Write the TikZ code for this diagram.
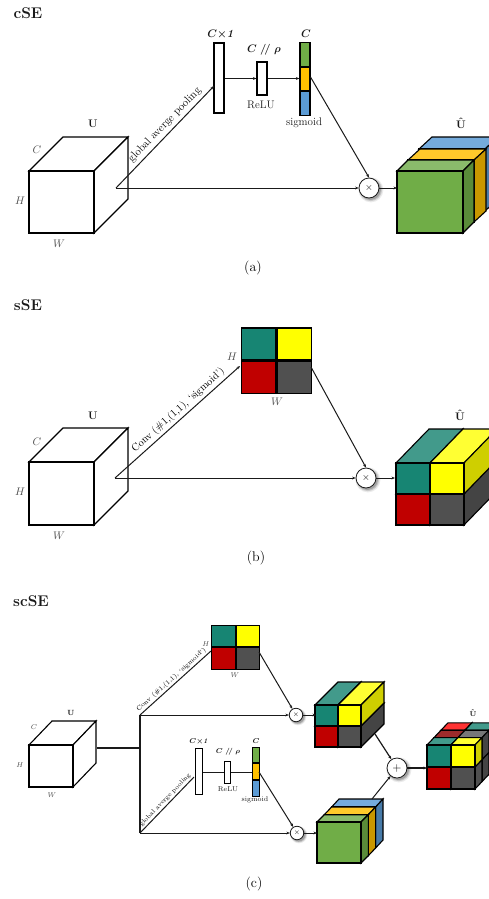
\documentclass[tikz,border=0pt]{standalone}
\usepackage{tikz}
\usetikzlibrary{arrows.meta,positioning,shadows,calc}
\definecolor{cgreen}{HTML}{70AD47}
\definecolor{cgreentop}{HTML}{8ABB6B}
\definecolor{cgreenside}{HTML}{5A8B39}
\definecolor{corange}{HTML}{FFC000}
\definecolor{corangetop}{HTML}{FFC92B}
\definecolor{corangeside}{HTML}{C99700}
\definecolor{cblue}{HTML}{5B9BD5}
\definecolor{cbluetop}{HTML}{75ABDC}
\definecolor{cblueside}{HTML}{487BA9}
\definecolor{cteal}{HTML}{178573}
\definecolor{ctealtop}{HTML}{429A8B}
\definecolor{ctealside}{HTML}{0F4C42}
\definecolor{cyellow}{HTML}{FFFF00}
\definecolor{cyellowtop}{HTML}{FFFF33}
\definecolor{cyellowside}{HTML}{CFCF00}
\definecolor{cred}{HTML}{C00000}
\definecolor{credtop}{HTML}{FF3333}
\definecolor{creddark}{HTML}{9C2B2B}
\definecolor{cgray}{HTML}{505050}
\definecolor{cgraytop}{HTML}{777777}
\definecolor{cgrayside}{HTML}{444444}
\definecolor{ink}{HTML}{1A1A1A}
\newcommand{\fsz}[1]{\fontsize{#1}{#1}\selectfont}
% one block: x, y, width, height, depth x, depth rise, then front, top and side fill
\newcommand{\slab}[9]{%
  \filldraw[face, fill=#8] (#1,#2) -- ++(#5,-#6) -- ++(#3,0) -- ++(-#5,#6) -- cycle;
  \filldraw[face, fill=#9] (#1+#3,#2) -- ++(#5,-#6) -- ++(0,#4) -- ++(-#5,#6) -- cycle;
  \filldraw[face, fill=#7] (#1,#2) rectangle ++(#3,#4);}

\begin{document}
\begin{tikzpicture}[
  x=1pt, y=-1pt,
  face/.style={draw=black, line width=1.1pt, line join=miter},
  bar/.style={draw=black, line width=1.2pt, fill=white, inner sep=0pt, minimum width=10pt, minimum height=70pt},
  midbar/.style={bar, minimum height=33pt},
  seg/.style={bar, minimum height=23.3pt},
  cell/.style={draw=black, line width=1.2pt, inner sep=0pt, minimum width=34.5pt, minimum height=32pt},
  smallbar/.style={bar, minimum width=6.5pt, minimum height=46pt, line width=1pt},
  smallmid/.style={smallbar, minimum height=22pt},
  smallseg/.style={smallbar, minimum height=15.7pt},
  smallcell/.style={cell, minimum width=23.5pt, minimum height=21.5pt, line width=1pt},
  mulnode/.style={circle, draw=ink, line width=0.8pt, fill=white, inner sep=0pt, minimum size=#1,
    drop shadow={shadow xshift=1.5pt, shadow yshift=-1.5pt, shadow scale=1.25, opacity=0.08, fill=black},
    drop shadow={shadow xshift=1.5pt, shadow yshift=-1.5pt, shadow scale=1.14, opacity=0.14, fill=black},
    drop shadow={shadow xshift=1.5pt, shadow yshift=-1.5pt, shadow scale=1.04, opacity=0.2, fill=black}},
  arr/.style={-{Stealth[length=3.5pt, width=2.8pt]}, line width=1pt, draw=ink},
  plainline/.style={line width=1pt, draw=ink},
  heavyline/.style={line width=1.3pt, draw=ink},
  title/.style={font=\fsz{15.5}\bfseries, text=ink, inner sep=0pt},
  caption/.style={font=\fsz{14}, text=black, inner sep=0pt},
  dimtext/.style={font=\fsz{10.5}, text=black!70, inner sep=0pt},
  smalldim/.style={font=\fsz{7.5}, text=black!70, inner sep=0pt},
  boldtext/.style={font=\fsz{11}\bfseries, text=ink, inner sep=0pt},
  smallbold/.style={font=\fsz{7.5}\bfseries, text=ink, inner sep=0pt},
  opname/.style={font=\fsz{11}, text=ink, inner sep=0pt},
  smallop/.style={font=\fsz{7}, text=ink, inner sep=0pt},
  slanted/.style={font=\fsz{#1}, text=black, inner sep=0pt}
]
  \useasboundingbox (0,0) rectangle (489,899);
  \clip (0,0) rectangle (489,899);

  % panel a
  \node[title] (titlea) at (28,13) {cSE};
  \slab{29}{171}{65}{62}{34}{34}{white}{white}{white}
  \node[boldtext] (ua) at (93,124) {U};
  \node[dimtext] (ca) at (37,150) {$C$};
  \node[dimtext] (ha) at (20,201) {$H$};
  \node[dimtext] (wa) at (59,244) {$W$};
  \coordinate (froma) at (116,188);
  \coordinate (intoa) at (214,86);

  \node[bar] (pool) at (219,78) {};
  \node[midbar] (relu) at (262,78.5) {};
  \node[seg, fill=cgreen] (siga) at (305,54.5) {};
  \node[seg, fill=corange, below=0pt of siga] (sigb) {};
  \node[seg, fill=cblue, below=0pt of sigb] (sigc) {};
  \node[font=\fsz{11}\boldmath, text=ink, inner sep=0pt] (poollab) at (221,34) {$C{\times}\mathit{1}$};
  \node[font=\fsz{11}\boldmath, text=ink, inner sep=0pt] (rholab) at (264,50) {$C\;/\!/\;\rho$};
  \node[font=\fsz{11}\boldmath, text=ink, inner sep=0pt] (clab) at (306,34) {$C$};
  \node[opname] (relulab) at (261,105) {ReLU};
  \node[opname] (siglab) at (304,123) {sigmoid};

  \node[mulnode=20pt] (mula) at (369,188) {$\times$};
  \slab{419}{149}{66}{62}{13}{12}{cblue}{cbluetop}{cblueside}
  \slab{408}{160}{66}{62}{12}{11}{corange}{corangetop}{corangeside}
  \slab{397}{171}{66}{62}{11}{11}{cgreen}{cgreentop}{cgreenside}
  \node[boldtext] (uhata) at (461,123) {$\mathbf{\hat{U}}$};
  \coordinate (inta) at (397,188);
  \coordinate (outa) at (310.5,77);

  \draw[arr] (froma) -- (intoa) node[slanted=11, pos=.56, sloped, above=3pt] (pooltext) {global averge pooling};
  \draw[arr] (froma) -- (mula);
  \draw[arr] (pool.east |- relu) -- (relu.west);
  \draw[arr] (relu.east) -- (relu.east -| sigb.west);
  \draw[arr] (outa) -- (mula.north);
  \draw[arr] (mula) -- (inta);
  \node[caption] (capa) at (253,268) {(a)};

  % panel b
  \node[title] (titleb) at (28,305) {sSE};
  \slab{29}{462}{65}{63}{34}{34}{white}{white}{white}
  \node[boldtext] (ub) at (93,416) {U};
  \node[dimtext] (cb) at (37,442) {$C$};
  \node[dimtext] (hb) at (20,492) {$H$};
  \node[dimtext] (wb) at (59,536) {$W$};
  \coordinate (fromb) at (115,478);
  \coordinate (intob) at (240,366);

  \node[cell, fill=cteal] (grida) at (258.5,344) {};
  \node[cell, fill=cyellow, right=0pt of grida] (gridb) {};
  \node[cell, fill=cred, below=0pt of grida] (gridc) {};
  \node[cell, fill=cgray, below=0pt of gridb] (gridd) {};
  \node[dimtext] (hgrid) at (232,357) {$H$};
  \node[dimtext] (wgrid) at (277,402) {$W$};

  \node[mulnode=20pt] (mulb) at (366,478) {$\times$};
  \slab{396}{494}{34}{31}{33}{34}{cred}{cred}{cgray}
  \slab{430}{494}{34}{31}{33}{34}{cgray}{cgray}{cgrayside}
  \slab{396}{463}{34}{31}{33}{34}{cteal}{ctealtop}{cteal}
  \slab{430}{463}{34}{31}{33}{34}{cyellow}{cyellowtop}{cyellowside}
  \node[boldtext] (uhatb) at (460,415) {$\mathbf{\hat{U}}$};
  \coordinate (intb) at (395,478);
  \coordinate (outb) at (311,367);

  \draw[arr] (fromb) -- (intob) node[slanted=10.4, pos=.55, sloped, above=2.5pt] (convtext) {Conv (\#1,(1,1), `sigmoid')};
  \draw[arr] (fromb) -- (mulb);
  \draw[arr] (outb) -- (mulb.north);
  \draw[arr] (mulb) -- (intb);
  \node[caption] (capb) at (256,558) {(b)};

  % panel c
  \node[title] (titlec) at (31,601) {scSE};
  \slab{29}{745}{44}{42}{23}{24}{white}{white}{white}
  \node[smallbold] (uc) at (71,713) {U};
  \node[smalldim] (cc) at (34,727) {$C$};
  \node[smalldim] (hc) at (20,765) {$H$};
  \node[smalldim] (wc) at (52,795) {$W$};
  \coordinate (cubeout) at (97,748);
  \coordinate (split) at (140,748);
  \coordinate (splittop) at (140,715);
  \coordinate (splitlow) at (140,833);
  \coordinate (intoc) at (211,651);
  \coordinate (intod) at (194,777);

  \node[smallcell, fill=cteal] (smalla) at (223.5,636) {};
  \node[smallcell, fill=cyellow, right=0pt of smalla] (smallb) {};
  \node[smallcell, fill=cred, below=0pt of smalla] (smallc) {};
  \node[smallcell, fill=cgray, below=0pt of smallb] (smalld) {};
  \node[smalldim] (hsmall) at (206,644) {$H$};
  \node[smalldim] (wsmall) at (235,675) {$W$};

  \node[smallbar] (poolc) at (199,771) {};
  \node[smallmid] (reluc) at (227.5,772) {};
  \node[smallseg, fill=cgreen] (sigd) at (256,755) {};
  \node[smallseg, fill=corange, below=0pt of sigd] (sige) {};
  \node[smallseg, fill=cblue, below=0pt of sige] (sigf) {};
  \node[font=\fsz{7.5}\boldmath, text=ink, inner sep=0pt] (poollabc) at (199,742) {$C{\times}\mathit{1}$};
  \node[font=\fsz{7.5}\boldmath, text=ink, inner sep=0pt] (rholabc) at (228,752) {$C\;/\!/\;\rho$};
  \node[font=\fsz{7.5}\boldmath, text=ink, inner sep=0pt] (clabc) at (256,741) {$C$};
  \node[smallop] (relulabc) at (228,789) {ReLU};
  \node[smallop] (siglabc) at (255,800) {sigmoid};

  \node[mulnode=13.5pt, font=\fsz{7}] (mulc) at (296,715) {$\times$};
  \node[mulnode=13.5pt, font=\fsz{7}] (muld) at (297,833) {$\times$};
  \node[mulnode=20pt, font=\fsz{13}] (addnode) at (397,768) {$+$};

  \slab{315}{726}{23}{21}{23}{23}{cred}{cred}{cgray}
  \slab{338}{726}{23}{21}{23}{23}{cgray}{cgray}{cgrayside}
  \slab{315}{705}{23}{21}{23}{23}{cteal}{ctealtop}{cteal}
  \slab{338}{705}{23}{21}{23}{23}{cyellow}{cyellowtop}{cyellowside}

  \slab{331.6}{807}{44}{41}{7.4}{8}{cblue}{cbluetop}{cblueside}
  \slab{324.3}{814.7}{44}{41}{7.3}{7.7}{corange}{corangetop}{corangeside}
  \slab{317}{822}{44}{41}{7.3}{7.3}{cgreen}{cgreentop}{cgreenside}

  % back layer of the last cube first
  \slab{441}{752.2}{24}{22}{7}{7.4}{cgray}{cgray}{ctealside}
  \slab{465}{752.2}{24}{22}{7}{7.4}{cgray}{cgray}{ctealside}
  \slab{441}{730.2}{24}{22}{7}{7.4}{cgray}{credtop}{cgrayside}
  \slab{465}{730.2}{24}{22}{7}{7.4}{cgray}{ctealtop}{cgrayside}
  \slab{434}{759.6}{24}{22}{7}{7.4}{cgray}{cgray}{cgrayside}
  \slab{458}{759.6}{24}{22}{7}{7.4}{cgray}{cgray}{cgrayside}
  \slab{434}{737.6}{24}{22}{7}{7.4}{cgray}{creddark}{cgrayside}
  \slab{458}{737.6}{24}{22}{7}{7.4}{cgray}{cgraytop}{cgrayside}
  \slab{427}{767}{24}{22}{7}{7.4}{cred}{cred}{cgray}
  \slab{451}{767}{24}{22}{7}{7.4}{cgray}{cgray}{cgray}
  \slab{427}{745}{24}{22}{7}{7.4}{cteal}{ctealtop}{cteal}
  \slab{451}{745}{24}{22}{7}{7.4}{cyellow}{cyellowtop}{cyellowside}
  \node[smallbold] (uhatc) at (473,713) {$\mathbf{\hat{U}}$};

  \coordinate (outc) at (259,652);
  \coordinate (outd) at (259,772);
  \coordinate (intc) at (316,715);
  \coordinate (intd) at (317,833);
  \coordinate (fromtop) at (375,734);
  \coordinate (fromlow) at (372,799);
  \coordinate (intsum) at (427,768);

  \draw[heavyline] (cubeout) -- (split);
  \draw[heavyline] (splittop) -- (splitlow);
  \draw[plainline] (splittop) -- (intoc) node[slanted=6.4, pos=.49, sloped, above=1.5pt] (convtextc) {Conv (\#1,(1,1), `sigmoid')};
  \draw[plainline] (splitlow) -- (intod) node[slanted=6.2, pos=.53, sloped, above=1.5pt] (pooltextc) {global averge pooling};
  \draw[arr] (splittop) -- (mulc);
  \draw[arr] (splitlow) -- (muld);
  \draw[plainline] (poolc.east |- reluc) -- (reluc.west);
  \draw[plainline] (reluc.east) -- (reluc.east -| sige.west);
  \draw[arr] (outc) -- (mulc);
  \draw[arr] (outd) -- (muld);
  \draw[arr] (mulc) -- (intc);
  \draw[arr] (muld) -- (intd);
  \draw[arr, line width=1.2pt] (fromtop) -- (addnode);
  \draw[arr] (fromlow) -- (addnode);
  \draw[arr, line width=1.4pt] (addnode) -- (intsum);
  \node[caption] (capc) at (254,884) {(c)};
\end{tikzpicture}
\end{document}
